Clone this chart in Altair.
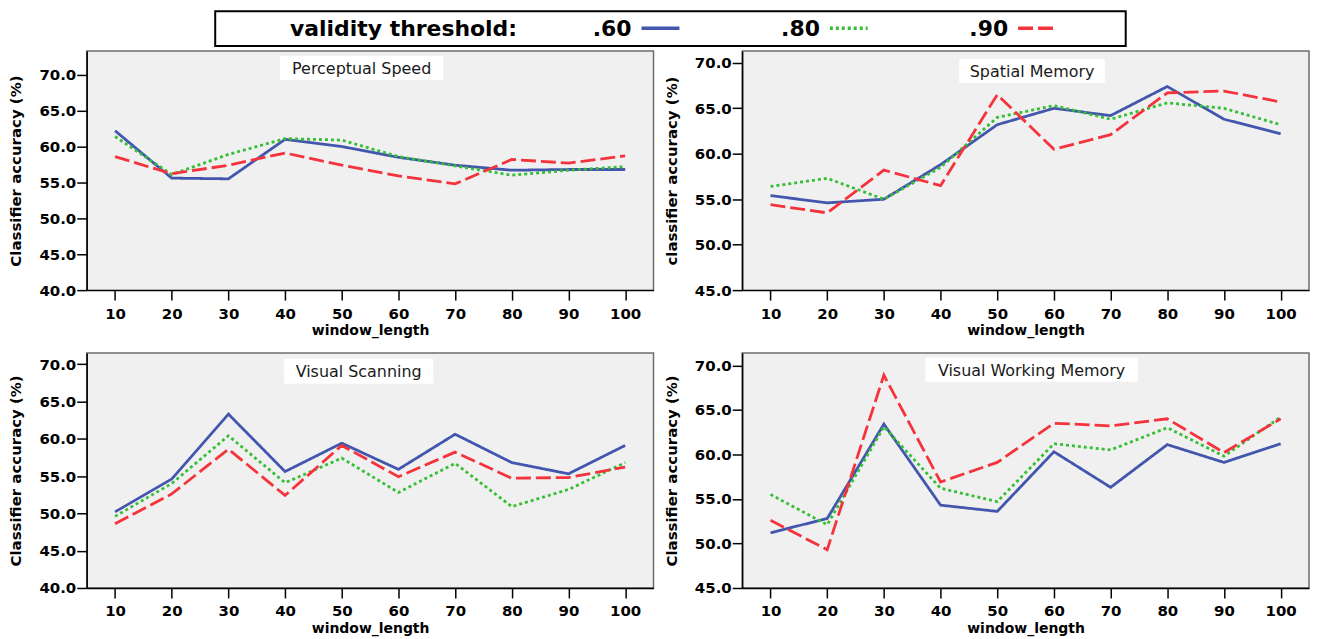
import altair as alt
import pandas as pd

# ---------------- data ----------------
window_length = [10, 20, 30, 40, 50, 60, 70, 80, 90, 100]
thresholds = [".60", ".80", ".90"]
panel_titles = ["Perceptual Speed", "Spatial Memory", "Visual Scanning", "Visual Working Memory"]
y_titles = ["Classifier accuracy (%)", "classifier accuracy (%)",
            "Classifier accuracy (%)", "Classifier accuracy (%)"]
legend_title = "validity threshold:"

ps_60 = [62.2, 55.6, 55.5, 61.0, 60.0, 58.5, 57.4, 56.7, 56.8, 56.8]
ps_80 = [61.4, 56.1, 58.9, 61.1, 60.9, 58.6, 57.3, 56.0, 56.7, 57.2]
ps_90 = [58.6, 56.2, 57.4, 59.1, 57.4, 55.9, 54.8, 58.2, 57.7, 58.7]

sm_60 = [55.4, 54.6, 55.0, 58.8, 63.2, 65.0, 64.2, 67.4, 63.8, 62.2]
sm_80 = [56.4, 57.3, 55.0, 58.5, 64.0, 65.3, 63.8, 65.6, 65.0, 63.2]
sm_90 = [54.4, 53.5, 58.2, 56.5, 66.5, 60.5, 62.1, 66.7, 66.9, 65.7]

vs_60 = [50.2, 54.6, 63.3, 55.6, 59.4, 55.9, 60.6, 56.8, 55.3, 59.1]
vs_80 = [49.6, 54.0, 60.4, 54.1, 57.4, 52.8, 56.7, 50.9, 53.2, 56.8]
vs_90 = [48.6, 52.6, 58.6, 52.4, 59.1, 54.9, 58.2, 54.7, 54.8, 56.2]

vwm_60 = [51.2, 52.8, 63.4, 54.3, 53.6, 60.3, 56.3, 61.1, 59.1, 61.2]
vwm_80 = [55.5, 52.1, 63.1, 56.2, 54.7, 61.2, 60.5, 63.0, 59.8, 64.2]
vwm_90 = [52.6, 49.3, 68.9, 56.9, 59.1, 63.5, 63.2, 64.0, 60.2, 64.0]

# ---------------- style ----------------
FONT = "DejaVu Sans"
colors = ["#4256AE", "#34BF34", "#F4333C"]
dashes = [[1, 0], [2.5, 3], [10, 6]]
legend_dashes = [[1, 0], [3, 3], [15, 5]]

color_enc = alt.Color("threshold:N", scale=alt.Scale(domain=thresholds, range=colors), legend=None)
dash_enc = alt.StrokeDash("threshold:N", scale=alt.Scale(domain=thresholds, range=dashes), legend=None)

PW = 569
GAP = 9
AXIS_W = 80   # left axis extent: the legend view is aligned with the plot areas below
LEG_W = PW + GAP + AXIS_W + PW


def panel(i, series, ymin, ymax, height, box):
    rows = []
    for thr, vals in zip(thresholds, series):
        for w, v in zip(window_length, vals):
            rows.append({"window_length": w, "accuracy": v, "threshold": thr})
    df = pd.DataFrame(rows)
    lines = alt.Chart(df).mark_line(strokeWidth=2.8).encode(
        x=alt.X("window_length:Q",
                scale=alt.Scale(domain=[5, 105], nice=False, zero=False),
                axis=alt.Axis(values=window_length, title="window_length", format="d")),
        y=alt.Y("accuracy:Q",
                scale=alt.Scale(domain=[ymin, ymax], nice=False, zero=False),
                axis=alt.Axis(values=list(range(ymin, 71, 5)), format=".1f", title=y_titles[i])),
        color=color_enc,
        strokeDash=dash_enc,
    )
    tdf = pd.DataFrame({"title": [panel_titles[i]]})
    rect = alt.Chart(tdf).mark_rect(fill="white").encode(
        x=alt.value(box[0]), x2=alt.value(box[1]), y=alt.value(box[2]), y2=alt.value(box[3]))
    text = alt.Chart(tdf).mark_text(font=FONT, fontSize=16, color="#1a1a1a",
                                    align="center", baseline="middle").encode(
        text="title:N", x=alt.value((box[0] + box[1]) / 2), y=alt.value((box[2] + box[3]) / 2 + 1))
    return alt.layer(rect, lines, text).properties(
        width=PW, height=height,
        view=alt.ViewBackground(fill="#F0F0F0", stroke="#6E6E6E", strokeWidth=1.5))


p1 = panel(0, [ps_60, ps_80, ps_90], 40, 73.3, 240, [194, 358, 5, 29])
p2 = panel(1, [sm_60, sm_80, sm_90], 45, 71.3, 240, [218, 364, 8, 32])
p3 = panel(2, [vs_60, vs_80, vs_90], 40, 71.5, 236, [198, 348, 6, 31])
p4 = panel(3, [vwm_60, vwm_80, vwm_90], 45, 71.4, 236, [184, 397, 5, 29])

# ---------------- legend ----------------
ldf = pd.DataFrame({"threshold": thresholds})
lx = alt.X("threshold:N",
           scale=alt.Scale(type="point", domain=thresholds,
                           range=[627 - AXIS_W, 1005 - AXIS_W], padding=0),
           axis=None)
box = alt.Chart(pd.DataFrame({"t": [legend_title]})).mark_rect(
    fill="white", stroke="black", strokeWidth=2).encode(
    x=alt.value(209 - AXIS_W), x2=alt.value(1123 - AXIS_W), y=alt.value(1), y2=alt.value(36))
leg_title = alt.Chart(pd.DataFrame({"t": [legend_title]})).mark_text(
    font=FONT, fontSize=22, fontWeight="bold", color="black", align="right", baseline="middle").encode(
    x=alt.value(512 - AXIS_W), y=alt.value(19), text="t:N")
leg_text = alt.Chart(ldf).mark_text(font=FONT, fontSize=22, fontWeight="bold", color="black",
                                    align="right", baseline="middle").encode(
    x=lx, y=alt.value(19), text="threshold:N")
leg_sym = alt.Chart(ldf).mark_point(shape="M-2,0L2,0", size=19 * 19, strokeWidth=3.5, filled=False,
                                    opacity=1, xOffset=29).encode(
    x=lx, y=alt.value(18), color=color_enc,
    strokeDash=alt.StrokeDash("threshold:N", scale=alt.Scale(domain=thresholds, range=legend_dashes),
                              legend=None))
legend = alt.layer(box, leg_title, leg_text, leg_sym).properties(
    width=LEG_W - AXIS_W, height=36,
    view=alt.ViewBackground(fill="transparent", stroke="transparent"))

row1 = alt.hconcat(p1, p2, spacing=GAP)
row2 = alt.hconcat(p3, p4, spacing=GAP)
panels = alt.vconcat(row1, row2, spacing=13)

chart = alt.vconcat(legend, panels, spacing=2, padding=0).configure_axis(
    labelFont=FONT, labelFontWeight="bold", labelFontSize=15, labelColor="black",
    titleFont=FONT, titleFontWeight="bold", titleFontSize=15, titleColor="black",
    domainColor="black", domainWidth=1.5, tickColor="black", tickWidth=1.5, tickSize=10,
    grid=False,
).configure_axisY(
    labelPadding=1, titlePadding=13, minExtent=50, maxExtent=50,
).configure_axisX(
    labelPadding=6, titlePadding=3, minExtent=31, maxExtent=31, titleFontSize=14,
)

chart.save("out.html", embed_options={"renderer": "svg", "actions": False})
